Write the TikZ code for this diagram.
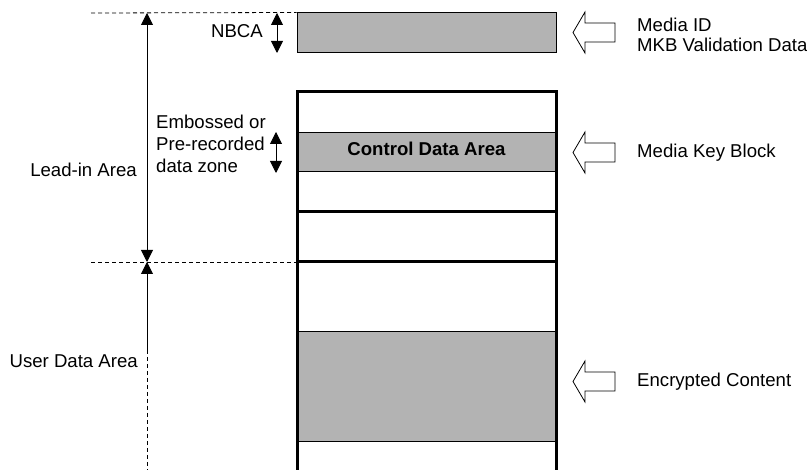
\documentclass[tikz,border=0pt]{standalone}
\usepackage{fontspec}
\setmainfont{Liberation Sans}
\usetikzlibrary{arrows.meta}
\definecolor{boxgray}{HTML}{B3B3B3}
\tikzset{
  graybox/.style={draw=black, line width=1pt, fill=boxgray, inner sep=0pt, minimum width=259pt},
  thickline/.style={line width=3pt},
  thinline/.style={line width=1pt},
  dimarrow/.style={line width=0.9pt, {Triangle[width=12pt,length=12pt]}-{Triangle[width=12pt,length=12pt]}},
  uparrow/.style={line width=0.9pt, {Triangle[width=12pt,length=12pt]}-},
  guide/.style={line width=0.8pt, dash pattern=on 4pt off 3pt},
  lbl/.style={inner sep=0pt, font=\fontsize{18.6}{22}\selectfont},
  hollowarrow/.pic={
    \draw[line width=0.8pt, fill=white] (0,0) -- (12,-20.5) -- (12,-9.5) -- (42,-9.5) -- (42,9.5) -- (12,9.5) -- (12,20.5) -- cycle;
  }
}
\begin{document}
\begin{tikzpicture}[x=1pt,y=-1pt]
\useasboundingbox (0,0) rectangle (807,470);

% gray boxes
\node[graybox, minimum height=40pt] (nbca) at (426.5,33) {};
\node[graybox, minimum height=39pt] (cda) at (426.5,152.5) {};
\node[graybox, minimum height=110pt] (enc) at (426.5,387) {};
\node[lbl, font=\fontsize{18.6}{22}\selectfont\bfseries, anchor=base] (cdatext) at (426.5,156) {Control Data Area};

% main column (open at the bottom)
\draw[thickline] (297,470) -- (297,92) -- (556,92) -- (556,470);
\draw[thickline] (297,212) -- (556,212);
\draw[thickline] (297,262) -- (556,262);

% guides
\coordinate (g1a) at (91,13);
\coordinate (g2a) at (91,262);
\coordinate (g2b) at (297,262);
\draw[guide] (g1a) -- (nbca.north west);
\draw[guide] (g2a) -- (g2b);

% dimension arrows
\coordinate (nbcaT) at (277,13);
\coordinate (nbcaB) at (277,53);
\coordinate (embT) at (276,132);
\coordinate (embB) at (276,173);
\coordinate (leadT) at (147,13);
\coordinate (leadB) at (147,262);
\coordinate (userT) at (147,262);
\coordinate (userM) at (147,350);
\coordinate (userB) at (147,470);
\draw[dimarrow] (nbcaT) -- (nbcaB);
\draw[dimarrow] (embT) -- (embB);
\draw[dimarrow] (leadT) -- (leadB);
\draw[uparrow] (userT) -- (userM);
\draw[guide] (userM) -- (userB);

% left labels
\node[lbl, anchor=base east] (nbcalbl) at (263,38) {NBCA};
\node[lbl, anchor=base west] (emb1) at (156,129) {Embossed or};
\node[lbl, anchor=base west] (emb2) at (156,151) {Pre-recorded};
\node[lbl, anchor=base west] (emb3) at (156,173) {data zone};
\node[lbl, anchor=base east] (leadlbl) at (137,177) {Lead-in Area};
\node[lbl, anchor=base east] (userlbl) at (138,368) {User Data Area};

% right hollow arrows
\pic at (573,32.5) {hollowarrow};
\pic at (573,152.5) {hollowarrow};
\pic at (573,381.5) {hollowarrow};

% right labels
\node[lbl, anchor=base west] (mid1) at (637,32) {Media ID};
\node[lbl, anchor=base west] (mid2) at (637,52) {MKB Validation Data};
\node[lbl, anchor=base west] (mkb) at (637,157.5) {Media Key Block};
\node[lbl, anchor=base west] (enclbl) at (637,387) {Encrypted Content};
\end{tikzpicture}
\end{document}
